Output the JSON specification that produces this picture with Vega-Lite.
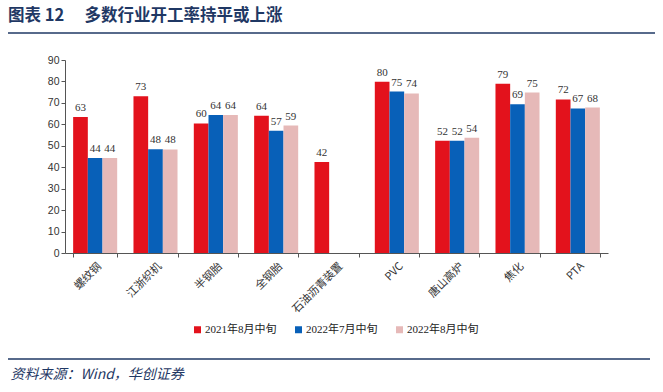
{
  "$schema": "https://vega.github.io/schema/vega-lite/v6.json",
  "width": 543,
  "height": 193,
  "autosize": {"type": "none"},
  "padding": {"left": 65, "top": 60, "right": 55, "bottom": 139},
  "background": "white",
  "config": {"view": {"stroke": null}},
  "title": {
    "text": "图表 12　  多数行业开工率持平或上涨",
    "anchor": "start",
    "frame": "group",
    "dx": -57,
    "offset": 8,
    "font": "Noto Sans CJK SC",
    "fontSize": 16.5,
    "fontWeight": "bold",
    "color": "#1F3864"
  },
  "datasets": {
    "bars": [
      {"cat": "螺纹钢", "series": "2021年8月中旬", "v": 63.4},
      {"cat": "螺纹钢", "series": "2022年7月中旬", "v": 44.3},
      {"cat": "螺纹钢", "series": "2022年8月中旬", "v": 44.3},
      {"cat": "江浙织机", "series": "2021年8月中旬", "v": 73.1},
      {"cat": "江浙织机", "series": "2022年7月中旬", "v": 48.4},
      {"cat": "江浙织机", "series": "2022年8月中旬", "v": 48.3},
      {"cat": "半钢胎", "series": "2021年8月中旬", "v": 60.4},
      {"cat": "半钢胎", "series": "2022年7月中旬", "v": 64.3},
      {"cat": "半钢胎", "series": "2022年8月中旬", "v": 64.4},
      {"cat": "全钢胎", "series": "2021年8月中旬", "v": 64.0},
      {"cat": "全钢胎", "series": "2022年7月中旬", "v": 57.0},
      {"cat": "全钢胎", "series": "2022年8月中旬", "v": 59.4},
      {"cat": "石油沥青装置", "series": "2021年8月中旬", "v": 42.4},
      {"cat": "PVC", "series": "2021年8月中旬", "v": 79.9},
      {"cat": "PVC", "series": "2022年7月中旬", "v": 75.3},
      {"cat": "PVC", "series": "2022年8月中旬", "v": 74.4},
      {"cat": "唐山高炉", "series": "2021年8月中旬", "v": 52.4},
      {"cat": "唐山高炉", "series": "2022年7月中旬", "v": 52.4},
      {"cat": "唐山高炉", "series": "2022年8月中旬", "v": 53.8},
      {"cat": "焦化", "series": "2021年8月中旬", "v": 78.9},
      {"cat": "焦化", "series": "2022年7月中旬", "v": 69.4},
      {"cat": "焦化", "series": "2022年8月中旬", "v": 74.8},
      {"cat": "PTA", "series": "2021年8月中旬", "v": 71.6},
      {"cat": "PTA", "series": "2022年7月中旬", "v": 67.4},
      {"cat": "PTA", "series": "2022年8月中旬", "v": 67.8}
    ]
  },
  "layer": [
    {
      "data": {"name": "bars"},
      "encoding": {
        "x": {
          "field": "cat",
          "type": "nominal",
          "sort": null,
          "scale": {"paddingInner": 0.27, "paddingOuter": 0.135},
          "axis": {
            "title": "资料来源：Wind，华创证券",
            "titleX": -55,
            "titleY": 125,
            "titleAnchor": "start",
            "titleAlign": "left",
            "titleBaseline": "alphabetic",
            "titleFont": "Noto Sans CJK SC",
            "titleFontSize": 14,
            "titleFontStyle": "italic",
            "titleFontWeight": "normal",
            "titleColor": "#1F3864",
            "labelAngle": -45,
            "labelFont": "Noto Sans CJK SC",
            "labelFontSize": 11,
            "labelColor": "#333333",
            "labelPadding": 3,
            "tickBand": "extent",
            "tickSize": 4,
            "tickColor": "#555555",
            "domainColor": "#555555",
            "grid": false
          }
        },
        "xOffset": {"field": "series", "type": "nominal", "scale": {"domain": ["2021年8月中旬", "2022年7月中旬", "2022年8月中旬"]}},
        "y": {
          "field": "v",
          "type": "quantitative",
          "scale": {"domain": [0, 90]},
          "axis": {
            "title": null,
            "values": [0, 10, 20, 30, 40, 50, 60, 70, 80, 90],
            "tickCount": 10,
            "labelOverlap": false,
            "labelFont": "Liberation Sans",
            "labelFontSize": 10.5,
            "labelColor": "#333333",
            "tickSize": 4,
            "tickColor": "#555555",
            "domainColor": "#555555",
            "grid": false
          }
        }
      },
      "layer": [
        {
          "mark": {"type": "bar"},
          "encoding": {
            "color": {
              "field": "series",
              "type": "nominal",
              "scale": {
                "domain": ["2021年8月中旬", "2022年7月中旬", "2022年8月中旬"],
                "range": ["#E3121C", "#0860B8", "#E6B9B8"]
              },
              "legend": {
                "title": null,
                "orient": "none",
                "direction": "horizontal",
                "legendX": 127,
                "legendY": 264,
                "symbolType": "square",
                "symbolSize": 49,
                "symbolStrokeWidth": 0,
                "labelFont": "Liberation Serif, Noto Sans CJK SC",
                "labelFontSize": 11,
                "labelColor": "#222222",
                "labelOffset": 2,
                "columnPadding": 16
              }
            }
          }
        },
        {
          "mark": {"type": "text", "baseline": "bottom", "dy": -4, "font": "Liberation Serif", "fontSize": 11, "color": "#333333"},
          "encoding": {
            "text": {"field": "v", "type": "quantitative", "format": ".0f"}
          }
        }
      ]
    },
    {
      "data": {"values": [{}]},
      "mark": {"type": "rule", "stroke": "#1F3864", "strokeWidth": 1.5},
      "encoding": {"x": {"value": -57}, "x2": {"value": 590}, "y": {"value": -27}}
    },
    {
      "data": {"values": [{}]},
      "mark": {"type": "rule", "stroke": "#1F3864", "strokeWidth": 1.5},
      "encoding": {"x": {"value": -57}, "x2": {"value": 585}, "y": {"value": 299}}
    }
  ]
}
